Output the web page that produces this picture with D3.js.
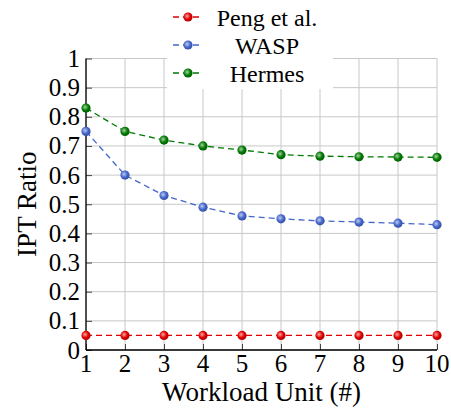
<!DOCTYPE html>
<html>
<head>
<meta charset="utf-8">
<script src="https://cdn.jsdelivr.net/npm/d3@7"></script>
<style>
  body { margin: 0; background: #fff; }
</style>
</head>
<body>
<div id="chart"></div>
<script>
// values
let workload = [1, 2, 3, 4, 5, 6, 7, 8, 9, 10];
let peng = [0.05, 0.05, 0.05, 0.05, 0.05, 0.05, 0.05, 0.05, 0.05, 0.05];
let wasp = [0.75, 0.60, 0.53, 0.49, 0.46, 0.45, 0.443, 0.439, 0.435, 0.43];
let hermes = [0.83, 0.75, 0.72, 0.70, 0.686, 0.67, 0.665, 0.663, 0.662, 0.661];
let seriesNames = ["Peng et al.", "WASP", "Hermes"];
let seriesColors = ["#e00000", "#4466cc", "#007a00"];
let yTicks = [0, 0.1, 0.2, 0.3, 0.4, 0.5, 0.6, 0.7, 0.8, 0.9, 1];

let width = 451, height = 412;
let plotLeft = 86, plotRight = 437, plotTop = 58.5, plotBottom = 350;
let serif = "Liberation Serif";

let x = d3.scaleLinear().domain([1, 10]).range([plotLeft, plotRight]);
let y = d3.scaleLinear().domain([0, 1]).range([plotBottom, plotTop]);

let svg = d3.select("#chart").append("svg")
    .attr("width", width).attr("height", height);

// ball-like marker shading
let defs = svg.append("defs");
seriesColors.forEach((c, i) => {
    let g = defs.append("radialGradient").attr("id", "ball" + i)
        .attr("cx", "40%").attr("cy", "40%").attr("r", "60%");
    g.append("stop").attr("offset", "0%").attr("stop-color", d3.interpolateRgb(c, "#fff")(0.65));
    g.append("stop").attr("offset", "60%").attr("stop-color", c);
    g.append("stop").attr("offset", "100%").attr("stop-color", d3.color(c).darker(0.6));
});

// grid
let grid = svg.append("g").attr("stroke", "#c8c8c8").attr("stroke-width", 1);
grid.selectAll(".gx").data(workload).join("line")
    .attr("x1", d => x(d)).attr("x2", d => x(d))
    .attr("y1", plotTop).attr("y2", plotBottom);
grid.selectAll(".gy").data(yTicks).join("line")
    .attr("y1", d => y(d)).attr("y2", d => y(d))
    .attr("x1", plotLeft).attr("x2", plotRight);

// axes: ticks point inwards, labels drawn separately
let xAxis = svg.append("g")
    .attr("transform", `translate(0,${plotBottom})`)
    .call(d3.axisTop(x).tickValues(workload).tickSize(6).tickFormat(""));
xAxis.select(".domain").remove();
xAxis.selectAll(".tick line").attr("stroke", "#444");

let yAxis = svg.append("g")
    .attr("transform", `translate(${plotLeft},0)`)
    .call(d3.axisRight(y).tickValues(yTicks).tickSize(6).tickFormat(""));
yAxis.select(".domain").remove();
yAxis.selectAll(".tick line").attr("stroke", "#444");

let labels = svg.append("g");
labels.selectAll(".xl").data(workload).join("text")
    .attr("x", d => x(d)).attr("y", plotBottom + 22)
    .attr("text-anchor", "middle").attr("font-size", 25)
    .attr("font-family", serif)
    .text(d => d);
labels.selectAll(".yl").data(yTicks).join("text")
    .attr("x", plotLeft - 6).attr("y", d => y(d) + 8.5)
    .attr("text-anchor", "end").attr("font-size", 25)
    .attr("font-family", serif)
    .text(d => d3.format("~g")(d));

svg.append("line").attr("x1", plotLeft).attr("x2", plotLeft).attr("y1", plotTop).attr("y2", plotBottom)
    .attr("stroke", "#000").attr("stroke-width", 1.3);
svg.append("line").attr("x1", plotLeft).attr("x2", plotRight).attr("y1", plotBottom).attr("y2", plotBottom)
    .attr("stroke", "#000").attr("stroke-width", 1.3);

// axis titles
labels.append("text").attr("x", (plotLeft + plotRight) / 2).attr("y", 401)
    .attr("text-anchor", "middle").attr("font-size", 27)
    .attr("font-family", serif)
    .text("Workload Unit (#)");
labels.append("text")
    .attr("transform", `translate(36,${(plotTop + plotBottom) / 2}) rotate(-90)`)
    .attr("text-anchor", "middle").attr("font-size", 27)
    .attr("font-family", serif)
    .text("IPT Ratio");

// series
let allSeries = [peng, wasp, hermes];
let line = d3.line().x((d, i) => x(workload[i])).y(d => y(d));
let plots = svg.append("g");
allSeries.forEach((vals, k) => {
    plots.append("path").datum(vals)
        .attr("fill", "none").attr("stroke", seriesColors[k])
        .attr("stroke-width", 1.3).attr("stroke-dasharray", "6,4")
        .attr("d", line);
});
allSeries.forEach((vals, k) => {
    plots.append("g").selectAll("circle").data(vals).join("circle")
        .attr("cx", (d, i) => x(workload[i])).attr("cy", d => y(d))
        .attr("r", 4.6).attr("fill", `url(#ball${k})`);
});

// legend
let legend = svg.append("g");
legend.append("rect").attr("x", 167).attr("y", 0).attr("width", 166).attr("height", 89)
    .attr("fill", "#fff");
let legendY = [17, 45, 73];
seriesNames.forEach((name, k) => {
    let g = legend.append("g").attr("transform", `translate(0,${legendY[k]})`);
    g.append("line").attr("x1", 173).attr("x2", 202).attr("y1", 0).attr("y2", 0)
        .attr("stroke", seriesColors[k]).attr("stroke-width", 1.3).attr("stroke-dasharray", "6,4");
    g.append("circle").attr("cx", 188).attr("cy", 0).attr("r", 4.6).attr("fill", `url(#ball${k})`);
    g.append("text").attr("x", 267).attr("y", 8.5).attr("text-anchor", "middle")
        .attr("font-size", 24).attr("font-family", serif).text(name);
});
</script>
</body>
</html>
